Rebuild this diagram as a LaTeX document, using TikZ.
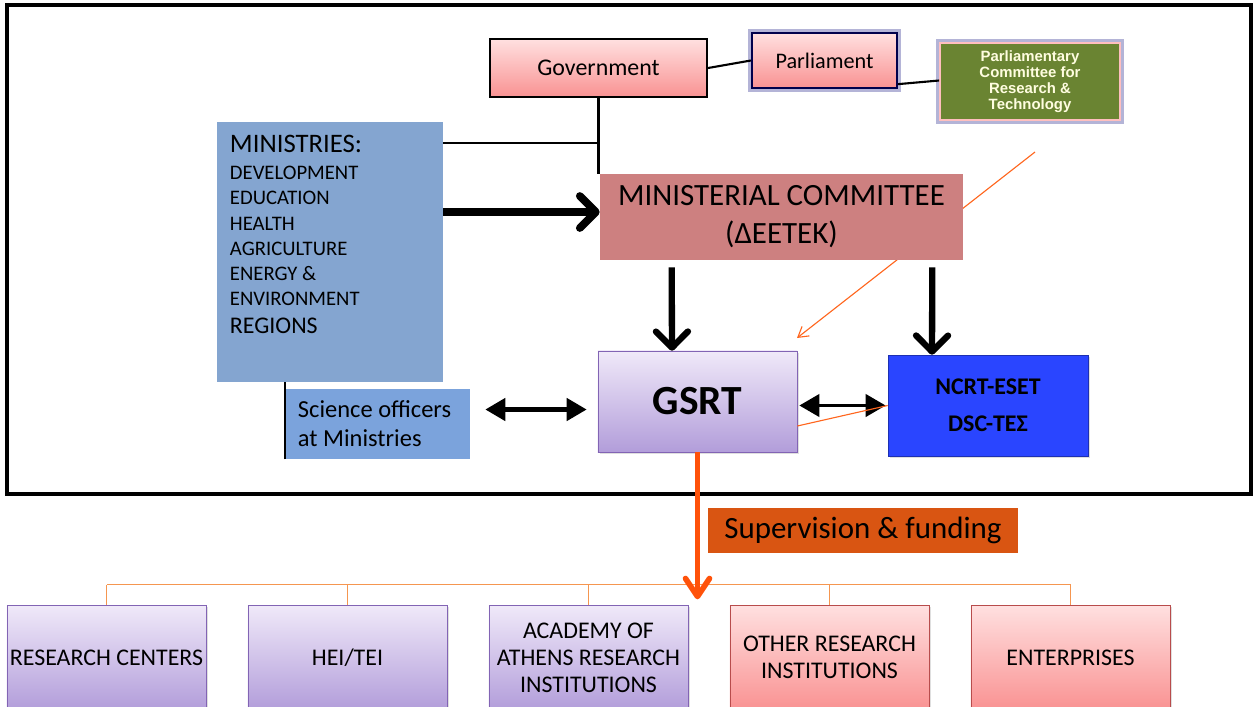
\documentclass[tikz,border=0pt]{standalone}
\usepackage{fontspec}
\setmainfont{Carlito}
\newfontfamily\arialfont{Liberation Sans}
\usetikzlibrary{arrows.meta,calc,shadows}

\definecolor{pinktop}{RGB}{255,224,224}
\definecolor{pinkbot}{RGB}{249,146,146}
\definecolor{purptop}{RGB}{240,233,249}
\definecolor{purpbot}{RGB}{178,157,218}
\definecolor{purpline}{RGB}{130,100,180}
\definecolor{minblue}{RGB}{132,165,208}
\definecolor{sciblue}{RGB}{123,163,220}
\definecolor{mcred}{RGB}{205,128,128}
\definecolor{ncrtblue}{RGB}{42,69,255}
\definecolor{pcgreen}{RGB}{106,132,50}
\definecolor{suporange}{RGB}{217,85,18}
\definecolor{lineorange}{RGB}{255,102,30}
\definecolor{arroworange}{RGB}{255,82,10}
\definecolor{treeorange}{RGB}{245,150,80}

\begin{document}
\begin{tikzpicture}[
            x = 0.025cm, y = -0.025cm, % one unit = one pixel of the sketch
            box/.style = {rectangle, inner sep=1pt, align=center},
            pinkbox/.style = {box, top color=pinktop, bottom color=pinkbot},
            purpbox/.style = {box, top color=purptop, bottom color=purpbot, draw=purpline,
                              drop shadow={opacity=0.25, shadow xshift=0.06cm, shadow yshift=-0.06cm}},
            glow/.style = {preaction={draw=blue!30!gray!45, line width=5pt}},
            bigarrow/.style = {-{Straight Barb[length=0.4cm, width=0.8cm, round]}, line width=4.5pt},
            dblarrow/.style = {{Triangle[length=0.5cm, width=0.55cm]}-{Triangle[length=0.5cm, width=0.55cm]}, line width=3.2pt},
            thinorange/.style = {draw=lineorange, line width=0.8pt},
            treeline/.style = {draw=treeorange, line width=0.8pt},
            supply/.style = {draw=arroworange, line width=4pt, -{Straight Barb[length=0.45cm, width=0.6cm, round]}}
        ]
\useasboundingbox (0,0) rectangle (1255,706);

% outer frame
\draw[line width=2.2pt] (7,5) rectangle (1251,494);

% orange line behind the committee
\coordinate (ofrom) at (1035,152);
\coordinate (oto) at (797,338);
\draw[thinorange, -{Straight Barb[length=0.25cm, width=0.3cm]}] (ofrom) -- (oto);

% top row
\node[pinkbox, draw=black, line width=1.5pt, minimum width=5.425cm, minimum height=1.45cm,
      font=\fontsize{17}{19}\selectfont] (gov) at (598.5,68) {Government};
\node[pinkbox, glow, draw=black!70!blue, line width=1.6pt, minimum width=3.625cm, minimum height=1.375cm,
      font=\fontsize{15.8}{18}\selectfont] (parl) at (824.5,60.5) {Parliament};
\node[box, glow, fill=pcgreen, draw=red!25!white, line width=1.2pt, minimum width=4.5cm, minimum height=1.925cm,
      text=white!88!yellow, font=\arialfont\bfseries\fontsize{10.6}{11.4}\selectfont] (pcrt) at (1030,81.5)
      {Parliamentary\\Committee for\\Research \&\\Technology};

% ministries
\node[box, fill=minblue, minimum width=5.65cm, minimum height=6.5cm] (min) at (330,252) {};
\node[anchor=north west, align=left, inner sep=0pt, font=\fontsize{14.7}{17.9}\selectfont] (mintxt)
      at ([shift={(0.325cm,-0.33cm)}]min.north west)
      {{\fontsize{19}{19}\selectfont MINISTRIES:}\\[1.5pt]
       DEVELOPMENT\\ EDUCATION\\ HEALTH\\ AGRICULTURE\\ ENERGY \&\\ ENVIRONMENT\\[2pt]
       {\fontsize{17}{18}\selectfont REGIONS}};
\node[box, fill=sciblue, minimum width=4.625cm, minimum height=1.75cm, align=flush left, text width=3.975cm,
      inner xsep=0pt, font=\fontsize{17.4}{20.5}\selectfont] (sci) at (377.5,424)
      {Science officers\\at Ministries};

% committee, GSRT, NCRT
\node[box, fill=mcred, minimum width=9.075cm, minimum height=2.15cm,
      font=\fontsize{22}{27}\selectfont] (mc) at (781.5,217)
      {MINISTERIAL COMMITTEE\\(ΔΕΕΤΕΚ)};
\node[purpbox, minimum width=4.975cm, minimum height=2.525cm,
      font=\bfseries\fontsize{29.5}{32}\selectfont] (gsrt) at (697.5,401.5) {GSRT};
\node[box, fill=ncrtblue, draw=ncrtblue!70!black, minimum width=5cm, minimum height=2.525cm,
      drop shadow={opacity=0.25, shadow xshift=0.06cm, shadow yshift=-0.06cm},
      font=\bfseries\fontsize{17}{26}\selectfont] (ncrt) at (988,405.5)
      {NCRT-ESET\\DSC-ΤΕΣ};

% links
\draw[line width=1.5pt] (gov.east) -- (parl.west);
\draw[line width=1.5pt] ($(parl.south east)+(0,-5)$) -- ($(pcrt.west)+(0,-1)$);
\coordinate (j) at (598.5,143);
\draw[line width=1.5pt] (gov.south) -- (gov.south |- mc.north);
\draw[line width=1.5pt] (min.east |- j) -- (j);
\draw[line width=1.5pt] (sci.south west) -- (sci.south west |- min.south);

\draw[bigarrow, line width=5.5pt] (min.east |- 0,212) -- (mc.west |- 0,212);
\draw[bigarrow] ([shift={(1.8cm,-0.175cm)}]mc.south west) -- ([xshift=-0.6375cm]gsrt.north);
\draw[bigarrow] ([shift={(-0.775cm,-0.175cm)}]mc.south east) -- ([xshift=-1.4cm]ncrt.north);

\path ([yshift=-0.2cm]gsrt.west) coordinate (gw);
\draw[dblarrow, shorten <=0.375cm, shorten >=0.275cm] (sci.east |- gw) -- (gw);
\draw[dblarrow, line width=2.8pt, shorten <=0.05cm, shorten >=0.05cm] (gsrt.east |- ncrt.west) -- (ncrt.west);
\draw[thinorange] (ncrt.west) -- ([yshift=-0.6125cm]gsrt.east);

% supervised bodies
\node[purpbox, minimum width=4.975cm, minimum height=2.625cm, font=\fontsize{17}{19.2}\selectfont] (b1) at (106.5,657.5) {RESEARCH CENTERS};
\node[purpbox, minimum width=4.975cm, minimum height=2.625cm, font=\fontsize{17}{19.2}\selectfont] (b2) at (347.5,657.5) {HEI/TEI};
\node[purpbox, minimum width=4.975cm, minimum height=2.625cm, font=\fontsize{17}{19.2}\selectfont] (b3) at (588.5,657.5) {ACADEMY OF\\ATHENS RESEARCH\\INSTITUTIONS};
\node[pinkbox, draw=red!60!black!70, minimum width=4.975cm, minimum height=2.625cm, font=\fontsize{17}{19.2}\selectfont,
      drop shadow={opacity=0.25, shadow xshift=0.06cm, shadow yshift=-0.06cm}] (b4) at (829.5,657.5) {OTHER RESEARCH\\INSTITUTIONS};
\node[pinkbox, draw=red!60!black!70, minimum width=4.975cm, minimum height=2.625cm, font=\fontsize{17}{19.2}\selectfont,
      drop shadow={opacity=0.25, shadow xshift=0.06cm, shadow yshift=-0.06cm}] (b5) at (1070.5,657.5) {ENTERPRISES};

\foreach \b in {b1,b2,b3,b4,b5}
  \draw[treeline] (\b.north) -- ++(0,-20);
\draw[treeline] ([yshift=0.5cm]b1.north) -- ([yshift=0.5cm]b5.north);

\node[box, fill=suporange, minimum width=7.75cm, minimum height=1.125cm,
      font=\fontsize{22}{24}\selectfont] (sup) at (863,530.5) {Supervision \& funding};
\draw[supply] (gsrt.south) -- ++(0,147);
\end{tikzpicture}
\end{document}
